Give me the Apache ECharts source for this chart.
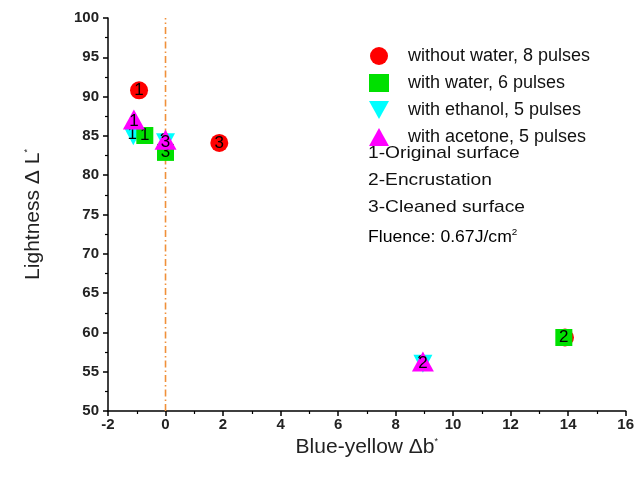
<!DOCTYPE html>
<html><head><meta charset="utf-8">
<script src="https://cdn.jsdelivr.net/npm/echarts@6/dist/echarts.min.js"></script>
<style>html,body{margin:0;padding:0;background:#fff}#c{width:637px;height:479px}</style>
</head><body><div id="c"></div>
<script>
// point labels: 1-Original surface, 2-Encrustation, 3-Cleaned surface
const pointLabels = ['1', '2', '3'];
// without water, 8 pulses
const noWaterB = [-0.92, 13.89, 1.87];
const noWaterL = [90.8, 59.35, 84.1];
// with water, 6 pulses
const waterB = [-0.72, 13.85, 0.0];
const waterL = [85.05, 59.35, 82.9];
// with ethanol, 5 pulses
const ethanolB = [-1.12, 8.95, 0.0];
const ethanolL = [84.95, 56.0, 84.2];
// with acetone, 5 pulses
const acetoneB = [-1.1, 8.95, 0.0];
const acetoneL = [87.1, 56.3, 84.5];
// reference line at b = 0
const refLineB = [0, 0];
const refLineL = [50, 100];

const seriesNames = ['without water, 8 pulses', 'with water, 6 pulses', 'with ethanol, 5 pulses', 'with acetone, 5 pulses'];
const xTicks = {min: -2, max: 16, interval: 2};
const yTicks = {min: 50, max: 100, interval: 5};

function pts(b, l) { return b.map((v, i) => ({value: [v, l[i]], name: pointLabels[i]})); }

const font = 'Liberation Sans, Arial, sans-serif';
const downTri = 'path://M0,0L10,0L5,9Z';
const upTri = 'path://M5,0L10,9L0,9Z';

function mk(name, data, symbol, size, color, z, labelOffset) {
  return {
    name: name, type: 'scatter', data: data, symbol: symbol, symbolSize: size, z: z,
    itemStyle: {color: color, opacity: 1},
    label: {show: true, position: 'inside', formatter: p => p.name, color: '#000', fontSize: 17, fontFamily: font, offset: labelOffset || [0, 0]},
    emphasis: {disabled: true}
  };
}

const chart = echarts.init(document.getElementById('c'), null, {renderer: 'canvas'});
const titleRich = {a: {fontSize: 21, fontFamily: font, color: '#222'}, s: {fontSize: 9, fontFamily: font, verticalAlign: 'top', padding: [0, 0, 12, 0], color: '#222'}};
const noteFont = '17px ' + font;
const option = {
  animation: false,
  grid: {left: 108, right: 11, top: 18, bottom: 68},
  xAxis: {
    type: 'value', min: xTicks.min, max: xTicks.max, interval: xTicks.interval,
    name: '{a|Blue-yellow \u0394b}{s|*}', nameLocation: 'middle', nameGap: 23,
    nameTextStyle: {rich: titleRich},
    axisLine: {show: true, onZero: false, lineStyle: {color: '#000', width: 1.5}},
    axisTick: {show: true, length: 5, lineStyle: {color: '#000', width: 1.5}},
    minorTick: {show: true, splitNumber: 2, length: 3, lineStyle: {color: '#000', width: 1.2}},
    splitLine: {show: false},
    axisLabel: {fontSize: 15, fontWeight: 'bold', fontFamily: font, color: '#222', margin: 6}
  },
  yAxis: {
    type: 'value', min: yTicks.min, max: yTicks.max, interval: yTicks.interval,
    name: '{a|Lightness \u0394 L}{s|*}', nameLocation: 'middle', nameGap: 64, nameRotate: 90,
    nameTextStyle: {rich: titleRich},
    axisLine: {show: true, onZero: false, lineStyle: {color: '#000', width: 1.5}},
    axisTick: {show: true, length: 5, lineStyle: {color: '#000', width: 1.5}},
    minorTick: {show: true, splitNumber: 2, length: 3, lineStyle: {color: '#000', width: 1.2}},
    splitLine: {show: false},
    axisLabel: {fontSize: 15, fontWeight: 'bold', fontFamily: font, color: '#222', margin: 9}
  },
  legend: {
    orient: 'vertical', left: 364, top: 42, itemGap: 9, itemWidth: 20, itemHeight: 18,
    textStyle: {fontSize: 18, fontFamily: font, color: '#111', padding: [0, 0, 0, 14]},
    data: [
      {name: seriesNames[0], icon: 'circle'},
      {name: seriesNames[1], icon: 'rect'},
      {name: seriesNames[2], icon: downTri},
      {name: seriesNames[3], icon: upTri}
    ]
  },
  graphic: [
    {type: 'text', x: 368, y: 145, scaleX: 1.13, style: {text: '1-Original surface', font: noteFont, fill: '#111'}},
    {type: 'text', x: 368, y: 172, scaleX: 1.13, style: {text: '2-Encrustation', font: noteFont, fill: '#111'}},
    {type: 'text', x: 368, y: 199, scaleX: 1.13, style: {text: '3-Cleaned surface', font: noteFont, fill: '#111'}},
    {type: 'text', x: 368, y: 228, scaleX: 1.1, style: {
      text: '{a|Fluence: 0.67J/cm}{s|2}',
      rich: {a: {fontSize: 16, fontFamily: font, color: '#111'}, s: {fontSize: 9, fontFamily: font, verticalAlign: 'top', padding: [0, 0, 10, 0], color: '#111'}}
    }}
  ],
  series: [
    {
      type: 'line', data: refLineB.map((v, i) => [v, refLineL[i]]), symbol: 'none', z: 1, silent: true,
      itemStyle: {color: '#f0903a'},
      lineStyle: {color: '#f0903a', type: [7, 3, 1.5, 3], width: 1.6}, legendHoverLink: false
    },
    mk(seriesNames[0], pts(noWaterB, noWaterL), 'circle', 18, '#ff0000', 2),
    mk(seriesNames[2], pts(ethanolB, ethanolL), downTri, [19, 18], '#00ffff', 3, [-1, -2]),
    mk(seriesNames[1], pts(waterB, waterL), 'rect', 17, '#00e000', 4),
    mk(seriesNames[3], pts(acetoneB, acetoneL), upTri, [22, 20], '#ff00ff', 5, [0, 2])
  ]
};
chart.setOption(option);
</script></body></html>
